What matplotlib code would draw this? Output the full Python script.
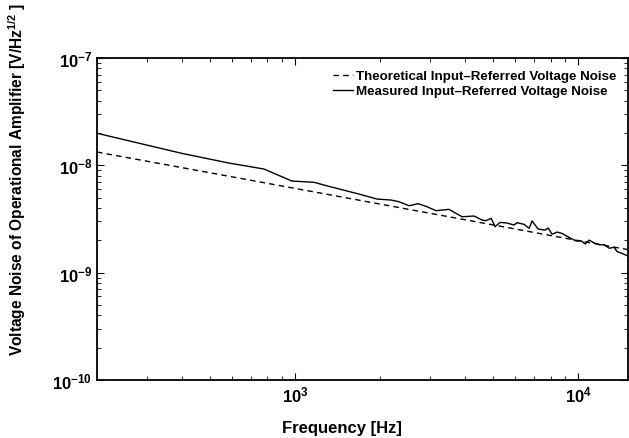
import numpy as np
import matplotlib
matplotlib.use('Agg')
import matplotlib.pyplot as plt

plt.rcParams['font.family'] = ['Liberation Sans', 'DejaVu Sans']
plt.rcParams['font.weight'] = 'bold'
plt.rcParams['axes.labelweight'] = 'bold'
plt.rcParams['mathtext.fontset'] = 'custom'
plt.rcParams['mathtext.rm'] = 'Liberation Sans:bold'
plt.rcParams['mathtext.bf'] = 'Liberation Sans:bold'

# theoretical noise (straight line in log-log)
freq_theory = [200, 1000, 10000, 15000]
noise_theory = [1.33e-8, 6.1e-9, 1.99e-9, 1.64e-9]

# measured noise
freq_meas = [200, 400, 585, 777, 976, 1167, 1318, 1683, 1949, 2183, 2330, 2528,
             2721, 2903, 3148, 3499, 3890, 4292, 4581, 4730, 4929, 5090, 5300,
             5610, 5940, 6085, 6442, 6714, 6875, 7223, 7643, 7834, 8093, 8433,
             8776, 9294, 9840, 10250, 10590, 10940, 11400, 11860, 12360, 12870,
             13400, 13740, 14300, 14900]
noise_meas = [1.99e-8, 1.29e-8, 1.05e-8, 9.24e-9, 7.14e-9, 6.95e-9, 6.37e-9,
              5.40e-9, 4.85e-9, 4.75e-9, 4.58e-9, 4.20e-9, 4.39e-9, 4.15e-9,
              3.78e-9, 3.89e-9, 3.32e-9, 3.37e-9, 3.09e-9, 3.05e-9, 3.21e-9,
              2.68e-9, 2.94e-9, 2.90e-9, 2.78e-9, 2.92e-9, 2.82e-9, 2.59e-9,
              3.03e-9, 2.55e-9, 2.49e-9, 2.61e-9, 2.28e-9, 2.39e-9, 2.32e-9,
              2.13e-9, 1.97e-9, 1.98e-9, 1.85e-9, 2.01e-9, 1.89e-9, 1.82e-9,
              1.82e-9, 1.69e-9, 1.72e-9, 1.57e-9, 1.51e-9, 1.44e-9]

fig = plt.figure(figsize=(6.29, 4.39), dpi=100)
ax = fig.add_axes([97/629, 58/439, 531/629, 322/439])

ax.loglog(freq_theory, noise_theory, color='black', lw=1.0, ls=(0, (4, 3)),
          label='Theoretical Input\u2013Referred Voltage Noise')
ax.loglog(freq_meas, noise_meas, color='black', lw=1.0,
          label='Measured Input\u2013Referred Voltage Noise')

ax.set_xlim(200, 15000)
ax.set_ylim(1e-10, 1e-7)

for s in ax.spines.values():
	s.set_linewidth(1.3)
ax.tick_params(which='both', direction='in', top=True, right=True, labelsize=12)
ax.tick_params(which='major', length=5, width=0.8)
ax.tick_params(which='minor', length=3, width=0.6)

ax.set_xlabel('Frequency [Hz]', fontsize=12)
ax.set_ylabel(r'Voltage Noise of Operational Amplifier [V/Hz$^{\mathdefault{1/2}}$ ]', fontsize=11.2)
ax.xaxis.set_label_coords(0.461, -0.125)
ax.yaxis.set_label_coords(-0.13, 0.625)

ax.legend(loc='upper right', frameon=False, fontsize=9.6, handlelength=1.5,
          handletextpad=0.2, labelspacing=0.2, borderaxespad=0.5)

fig.savefig('out.png', dpi=100)
